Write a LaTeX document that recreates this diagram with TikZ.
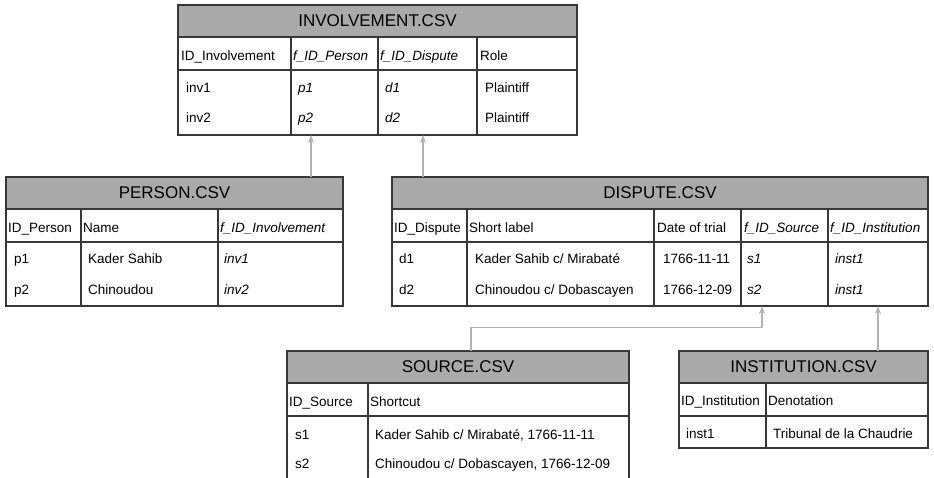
\documentclass[tikz,border=0pt]{standalone}
\usepackage{fontspec}
\setmainfont{Liberation Sans}
\usetikzlibrary{arrows.meta}
\definecolor{hdrgray}{RGB}{170,170,170}
\definecolor{edgecol}{RGB}{55,55,55}
\definecolor{linkgray}{RGB}{178,178,178}
\tikzset{
 frame/.style={draw=edgecol, line width=1.2pt, anchor=north west, inner sep=0pt, outer sep=0pt},
 hdr/.style={frame, fill=hdrgray, font=\fontsize{17}{20}\selectfont},
 rule/.style={draw=edgecol, line width=1.2pt},
 cell/.style={anchor=base west, inner sep=0pt, font=\fontsize{13.5}{16}\selectfont},
 fk/.style={anchor=base west, inner sep=0pt, font=\fontsize{13.5}{16}\selectfont\itshape},
 link/.style={draw=linkgray, line width=1.2pt, -{Stealth[length=8pt,width=6pt]}},
}
\begin{document}
\begin{tikzpicture}[x=1pt,y=-1pt]
\clip (0,0) rectangle (934,477);
\fill[white] (0,0) rectangle (934,477);

% ---------------- INVOLVEMENT
\node[frame, minimum width=399pt, minimum height=130pt] (inv) at (178,5) {};
\node[hdr, minimum width=399pt, minimum height=32pt] (invT) at (178,5) {INVOLVEMENT.CSV};
\draw[rule] (178,70) -- (577,70);
\foreach \x in {291,378,477} \draw[rule] (\x,37) -- (\x,135);
\node[cell] (invh1) at (181,60) {ID\_Involvement};
\node[fk]   (invh2) at (293,60) {f\_ID\_Person};
\node[fk]   (invh3) at (380,60) {f\_ID\_Dispute};
\node[cell] (invh4) at (480,60) {Role};
\node[cell] (inva1) at (186,92) {inv1};
\node[fk]   (inva2) at (298,92) {p1};
\node[fk]   (inva3) at (385,92) {d1};
\node[cell] (inva4) at (485,92) {Plaintiff};
\node[cell] (invb1) at (186,122.5) {inv2};
\node[fk]   (invb2) at (298,122.5) {p2};
\node[fk]   (invb3) at (385,122.5) {d2};
\node[cell] (invb4) at (485,122.5) {Plaintiff};

% ---------------- PERSON
\node[frame, minimum width=337pt, minimum height=129pt] (per) at (6,177) {};
\node[hdr, minimum width=337pt, minimum height=32pt] (perT) at (6,177) {PERSON.CSV};
\draw[rule] (6,242) -- (343,242);
\foreach \x in {81,218} \draw[rule] (\x,209) -- (\x,306);
\node[cell] (perh1) at (8,232) {ID\_Person};
\node[cell] (perh2) at (83,232) {Name};
\node[fk]   (perh3) at (220,232) {f\_ID\_Involvement};
\node[cell] (pera1) at (14,263.5) {p1};
\node[cell] (pera2) at (88,263.5) {Kader Sahib};
\node[fk]   (pera3) at (224,263.5) {inv1};
\node[cell] (perb1) at (14,294.5) {p2};
\node[cell] (perb2) at (88,294.5) {Chinoudou};
\node[fk]   (perb3) at (224,294.5) {inv2};

% ---------------- DISPUTE
\node[frame, minimum width=536pt, minimum height=129pt] (dsp) at (392,177) {};
\node[hdr, minimum width=536pt, minimum height=32pt] (dspT) at (392,177) {DISPUTE.CSV};
\draw[rule] (392,242) -- (928,242);
\foreach \x in {467,654,741,828} \draw[rule] (\x,209) -- (\x,306);
\node[cell] (dsph1) at (394,232) {ID\_Dispute};
\node[cell] (dsph2) at (469,232) {Short label};
\node[cell] (dsph3) at (657,232) {Date of trial};
\node[fk]   (dsph4) at (744,232) {f\_ID\_Source};
\node[fk]   (dsph5) at (830,232) {f\_ID\_Institution};
\node[cell] (dspa1) at (399,263.5) {d1};
\node[cell] (dspa2) at (475,263.5) {Kader Sahib c/ Mirabaté};
\node[cell] (dspa3) at (663,263.5) {1766-11-11};
\node[fk]   (dspa4) at (747,263.5) {s1};
\node[fk]   (dspa5) at (835,263.5) {inst1};
\node[cell] (dspb1) at (399,294.5) {d2};
\node[cell] (dspb2) at (475,294.5) {Chinoudou c/ Dobascayen};
\node[cell] (dspb3) at (663,294.5) {1766-12-09};
\node[fk]   (dspb4) at (747,294.5) {s2};
\node[fk]   (dspb5) at (835,294.5) {inst1};

% ---------------- SOURCE
\node[frame, minimum width=342pt, minimum height=140pt] (src) at (287,351) {};
\node[hdr, minimum width=342pt, minimum height=32pt] (srcT) at (287,351) {SOURCE.CSV};
\draw[rule] (287,416) -- (629,416);
\draw[rule] (368,383) -- (368,491);
\node[cell] (srch1) at (289,406) {ID\_Source};
\node[cell] (srch2) at (370,406) {Shortcut};
\node[cell] (srca1) at (295,439) {s1};
\node[cell] (srca2) at (375,439) {Kader Sahib c/ Mirabaté, 1766-11-11};
\node[cell] (srcb1) at (295,468) {s2};
\node[cell] (srcb2) at (375,468) {Chinoudou c/ Dobascayen, 1766-12-09};

% ---------------- INSTITUTION
\node[frame, minimum width=249pt, minimum height=97pt] (ins) at (679,351) {};
\node[hdr, minimum width=249pt, minimum height=32pt] (insT) at (679,351) {INSTITUTION.CSV};
\draw[rule] (679,416) -- (928,416);
\draw[rule] (766,383) -- (766,448);
\node[cell] (insh1) at (681,405.5) {ID\_Institution};
\node[cell] (insh2) at (768,405.5) {Denotation};
\node[cell] (insa1) at (686,438) {inst1};
\node[cell] (insa2) at (773,438) {Tribunal de la Chaudrie};

% ---------------- connectors
\coordinate (c1) at (311,177);
\coordinate (c2) at (423,177);
\coordinate (c3) at (471,351);
\coordinate (c3b) at (762,327.5);
\coordinate (c4) at (878,351);
\draw[link] (c1) -- (c1 |- inv.south);
\draw[link] (c2) -- (c2 |- inv.south);
\draw[link] (c3) -- (c3 |- c3b) -- (c3b) -- (c3b |- dsp.south);
\draw[link] (c4) -- (c4 |- dsp.south);
\end{tikzpicture}
\end{document}
